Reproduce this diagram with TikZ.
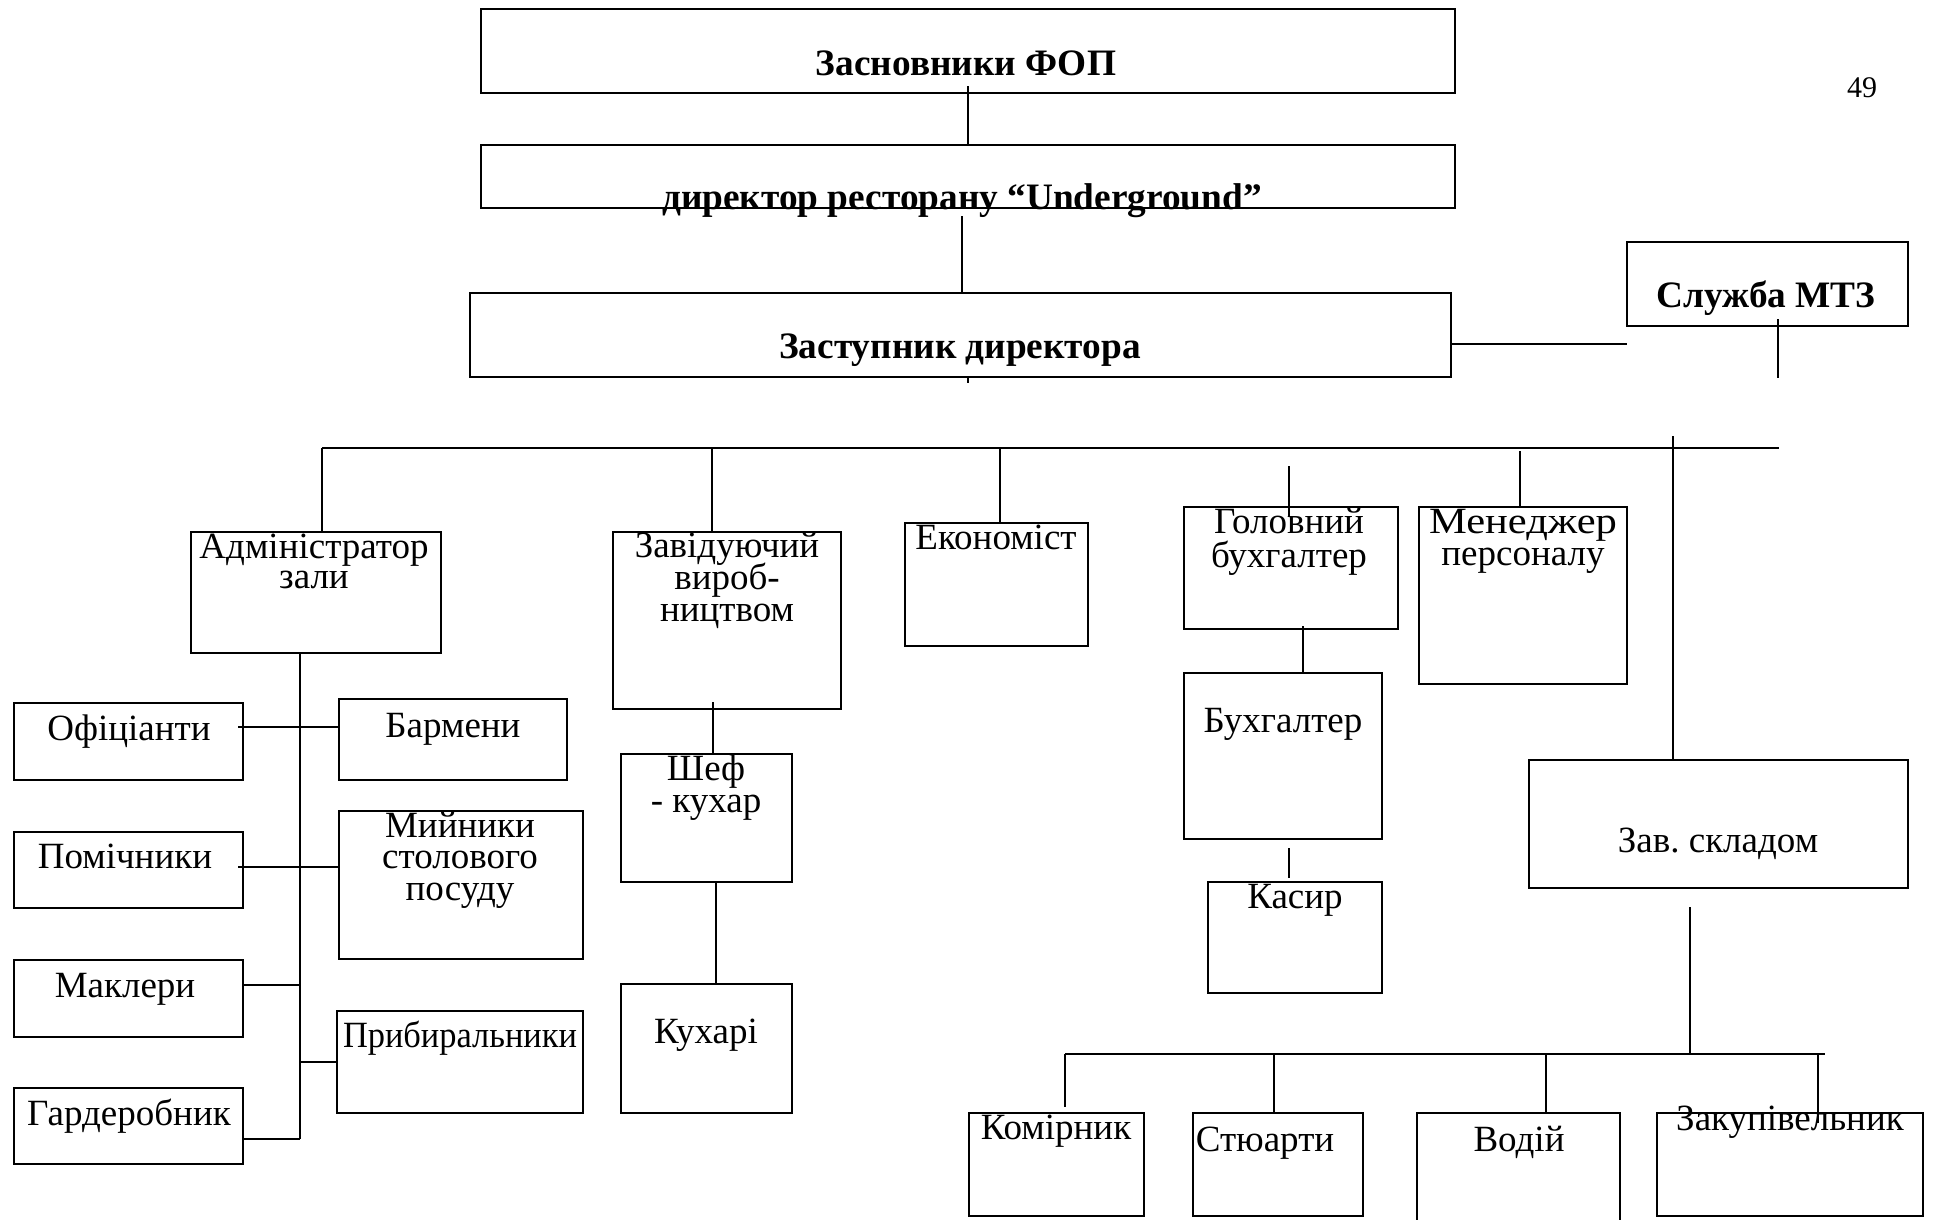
\documentclass[tikz,border=0pt]{standalone}
\usepackage{fontspec}
\setmainfont{Liberation Serif}
\usetikzlibrary{calc}
% rectangle given by its top-left and bottom-right corners (y grows downward)
\newcommand\orgbox[5]{\node[box, minimum width={#4-#2}, minimum height={#5-#3}] (#1) at (#2,#3) {};}
% centred lines with a fixed baseline distance; the box baseline is that of the first line
\newcommand\stack[2]{\vtop{\baselineskip=#1pt\lineskiplimit=-100pt\lineskip=0pt\halign{\hfil##\hfil\cr#2\crcr}}}
\begin{document}
\frenchspacing
\begin{tikzpicture}[x=1pt,y=-1pt,
  box/.style={draw, line width=2.6pt, rectangle, inner sep=0pt, outer sep=0pt, anchor=north west},
  conn/.style={line width=2pt},
  bus/.style={line width=2.6pt},
  mlbl/.style={anchor=base, inner sep=0pt, font=\fontsize{37}{37}\selectfont},
  lbl/.style={mlbl, text height=24pt, text depth=4pt},
  blbl/.style={anchor=base, inner sep=0pt, font=\fontsize{37.3}{37.3}\selectfont\bfseries},
]
\useasboundingbox (0,0) rectangle (1933,1219);
\clip (0,0) rectangle (1933,1219);

% management chain
\orgbox{fop}{481}{9}{1455}{93}
\orgbox{dir}{481}{145}{1455}{208}
\orgbox{zast}{470}{293}{1451}{377}
\orgbox{mtz}{1627}{242}{1908}{326}

% first-level departments
\orgbox{adm}{191}{532}{441}{653}
\orgbox{zav}{613}{532}{841}{709}
\orgbox{econ}{905}{523}{1088}{646}
\orgbox{gol}{1184}{507}{1398}{629}
\orgbox{men}{1419}{507}{1627}{684}
\orgbox{sklad}{1529}{760}{1908}{888}

% hall staff
\orgbox{ofic}{14}{703}{243}{780}
\orgbox{pomich}{14}{832}{243}{908}
\orgbox{makl}{14}{960}{243}{1037}
\orgbox{gard}{14}{1088}{243}{1164}
\orgbox{barm}{339}{699}{567}{780}
\orgbox{myin}{339}{811}{583}{959}
\orgbox{prib}{337}{1011}{583}{1113}

% kitchen and accounting
\orgbox{shef}{621}{754}{792}{882}
\orgbox{kuch}{621}{984}{792}{1113}
\orgbox{buh}{1184}{673}{1382}{839}
\orgbox{kas}{1208}{882}{1382}{993}

% warehouse staff
\orgbox{komir}{969}{1113}{1144}{1216}
\orgbox{stew}{1193}{1113}{1363}{1216}
\orgbox{vod}{1417}{1113}{1620}{1260}
\orgbox{zakup}{1657}{1113}{1923}{1216}

% ---- connectors ----
\draw[conn] ([yshift=7pt]fop.south) -- (dir.north);
\draw[conn] ($(dir.south -| 962,0)+(0,8)$) -- (zast.north -| 962,0);
\coordinate (zstub) at (968,383);
\draw[conn] (zast.south -| zstub) -- (zstub);
\draw[bus] (zast.east |- 0,344) -- (mtz.west |- 0,344);
\coordinate (mtzstub) at (1778,378);
\draw[conn] ($(mtz.south -| mtzstub)+(0,-7)$) -- (mtzstub);

\coordinate (busL) at (322,448);
\coordinate (busR) at (1779,448);
\draw[bus] (busL) -- (busR);
\draw[conn] (busL) -- (adm.north -| busL);
\draw[conn] (busL -| 712,0) -- (zav.north -| 712,0);
\draw[conn] (busL -| 1000,0) -- (econ.north -| 1000,0);
\coordinate (golTop) at (1289,466);
\draw[conn] (golTop) -- ($(gol.north -| golTop)+(0,10)$);
\draw[conn] ($(busL -| 1520,0)+(0,3)$) -- (men.north -| 1520,0);
\coordinate (skTop) at (1673,436);
\draw[conn] (skTop) -- (sklad.north -| skTop);

% hall staff tree
\coordinate (admFoot) at (300,1139);
\draw[conn] (adm.south -| admFoot) -- (admFoot);
\draw[conn] ($(ofic.east |- 0,727)+(-5,0)$) -- (barm.west |- 0,727);
\draw[conn] ($(pomich.east |- 0,867)+(-5,0)$) -- (myin.west |- 0,867);
\draw[conn] (makl.east |- 0,985) -- (admFoot |- 0,985);
\draw[conn] (admFoot |- prib.west) -- (prib.west);
\draw[conn] (gard.east |- admFoot) -- (admFoot);

% kitchen
\draw[conn] ($(zav.south -| 713,0)+(0,-7)$) -- (shef.north -| 713,0);
\draw[conn] (shef.south -| 716,0) -- (kuch.north -| 716,0);

% accounting
\draw[conn] ($(gol.south -| 1303,0)+(0,-3)$) -- (buh.north -| 1303,0);
\draw[conn] ($(buh.south -| 1289,0)+(0,9)$) -- ($(kas.north -| 1289,0)+(0,-4)$);

% warehouse
\coordinate (bus2L) at (1065,1054);
\coordinate (bus2R) at (1825,1054);
\draw[conn] ($(sklad.south -| 1690,0)+(0,19)$) -- (bus2L -| 1690,0);
\draw[bus] (bus2L) -- (bus2R);
\draw[conn] (bus2L) -- ($(komir.north -| bus2L)+(0,-6)$);
\draw[conn] (bus2L -| 1274,0) -- (stew.north -| 1274,0);
\draw[conn] (bus2L -| 1546,0) -- (vod.north -| 1546,0);
\draw[conn] (bus2L -| 1818,0) -- ($(zakup.north -| 1818,0)+(0,10)$);

% ---- labels ----
\node[blbl] (t-fop) at (966,75) {Засновники ФОП};
\node[blbl] (t-dir) at (962,209) {директор ресторану “Underground”};
\node[blbl] (t-zast) at (960,358) {Заступник директора};
\node[blbl] (t-mtz) at (1766,307) {Служба МТЗ};
\node[lbl, font=\fontsize{30}{30}\selectfont] (t-page) at (1862,97) {49};

\node[mlbl] (t-adm) at (314,558) {\stack{30}{Адміністратор\cr зали}};
\node[lbl] (t-ofic) at (129,740) {Офіціанти};
\node[lbl] (t-barm) at (453,737) {Бармени};
\node[lbl] (t-pomich) at (125,868) {Помічники};
\node[mlbl] (t-myin) at (460,837) {\stack{31.5}{Мийники\cr столового\cr посуду}};
\node[lbl] (t-makl) at (125,997) {Маклери};
\node[lbl] (t-prib) at (460,1047) {\scalebox{0.93}[1]{Прибиральники}};
\node[lbl] (t-gard) at (129,1125) {Гардеробник};

\node[mlbl] (t-zav) at (727,557) {\stack{32}{Завідуючий\cr вироб-\cr ництвом}};
\node[mlbl] (t-shef) at (706,780) {\stack{32}{Шеф\cr - кухар}};
\node[lbl] (t-kuch) at (706,1043) {Кухарі};

\node[lbl] (t-econ) at (996,549) {Економіст};
\node[mlbl] (t-gol) at (1289,533) {\stack{34}{Головний\cr бухгалтер}};
\node[lbl] (t-buh) at (1283,732) {Бухгалтер};
\node[lbl] (t-kas) at (1295,908) {Касир};
\node[mlbl] (t-men) at (1523,533) {\stack{32}{\scalebox{1.15}[1]{Менеджер}\cr персоналу}};
\node[lbl] (t-sklad) at (1718,852) {Зав. складом};

\node[lbl] (t-komir) at (1056,1139) {Комірник};
\node[lbl] (t-stew) at (1265,1151) {Стюарти};
\node[lbl] (t-vod) at (1519,1151) {Водій};
\node[lbl] (t-zakup) at (1790,1130) {Закупівельник};
\end{tikzpicture}
\end{document}
